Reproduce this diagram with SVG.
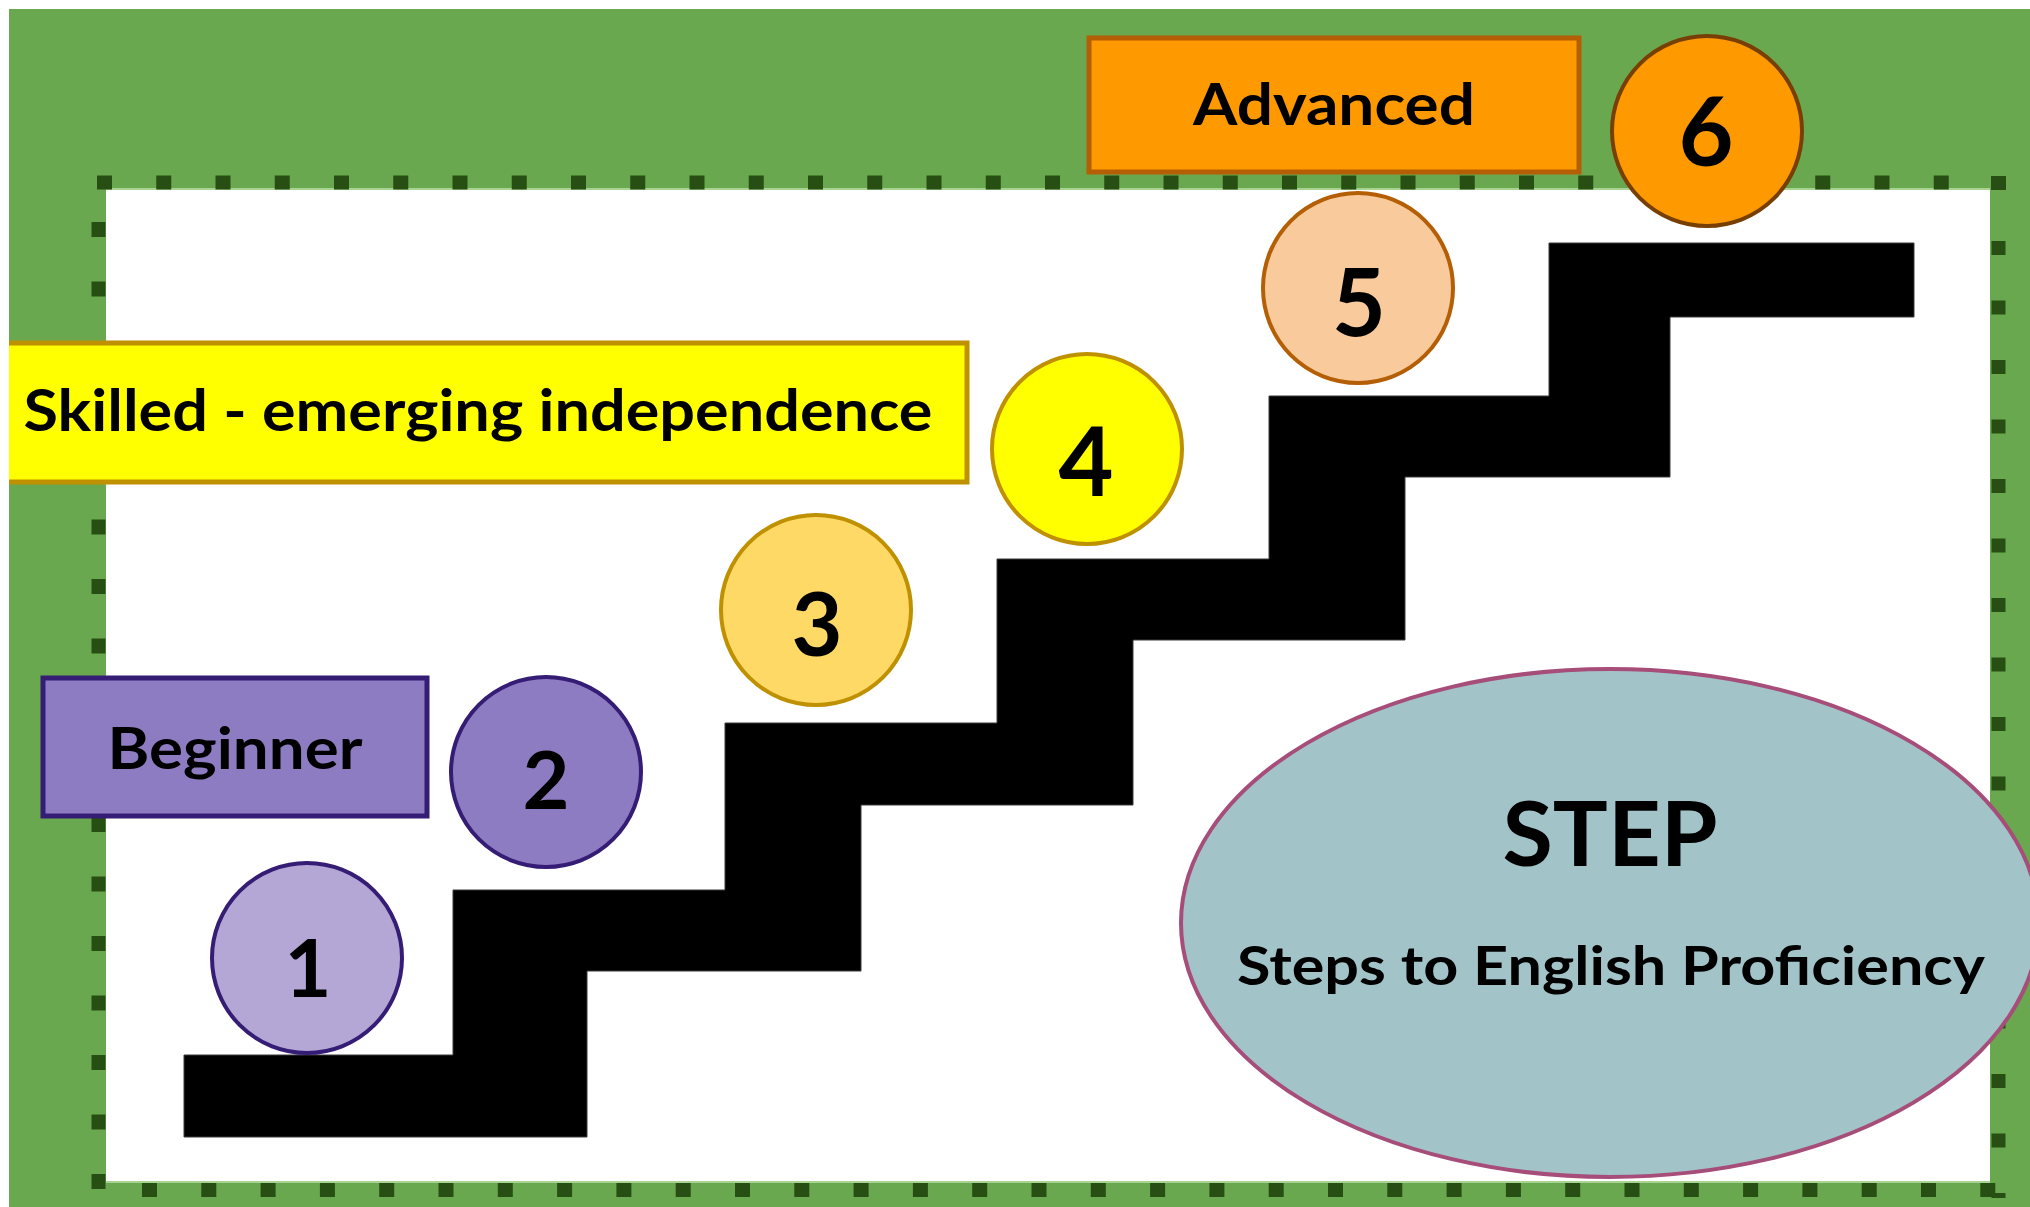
<svg xmlns="http://www.w3.org/2000/svg" width="2030" height="1207" viewBox="0 0 2030 1207">
<style>
.lbl{font-family:Lato,"Open Sans","Liberation Sans",sans-serif;font-weight:700;fill:#000;text-anchor:middle}
.num{font-family:Lato,"Open Sans","Liberation Sans",sans-serif;font-weight:700;fill:#000;text-anchor:middle}
.dot{fill:none;stroke:#274e13;stroke-width:14}
.stair{fill:#000;stroke:#3a3a3a;stroke-width:1}
</style>
<defs>
<clipPath id="frame"><rect x="9" y="9" width="2021" height="1198"/></clipPath>
</defs>
<rect x="0" y="0" width="2030" height="1207" fill="#ffffff"/>
<g clip-path="url(#frame)">
<g id="background">
<rect x="9" y="9" width="2021" height="1198" fill="#6aa84f"/>
<rect x="106" y="190" width="1884" height="992" fill="#ffffff"/>
<line x1="106" y1="189" x2="1990" y2="189" stroke="#a8d392" stroke-width="2"/>
<line x1="106" y1="1182" x2="1990" y2="1182" stroke="#a8d392" stroke-width="2"/>
<line class="dot" x1="97" y1="182.5" x2="1990" y2="182.5" stroke-dasharray="15 44.25"/>
<line class="dot" x1="98.5" y1="222" x2="98.5" y2="1198" stroke-dasharray="15 44.5"/>
<line class="dot" x1="142" y1="1190" x2="2006" y2="1190" stroke-dasharray="15 44.3"/>
<line class="dot" x1="1998.5" y1="241" x2="1998.5" y2="1198" stroke-dasharray="14 45.5"/>
<rect x="1991" y="176" width="15" height="14" fill="#274e13"/>
</g>
<g id="stairs">
<path class="stair" d="M184,1055 L453,1055 L453,890 L725,890 L725,723 L997,723 L997,559 L1269,559 L1269,396 L1549,396 L1549,243 L1914,243 L1914,317 L1670,317 L1670,477 L1405,477 L1405,640 L1133,640 L1133,805 L861,805 L861,971 L587,971 L587,1137 L184,1137 Z"/>
</g>
<g id="label-beginner">
<rect x="43" y="678" width="384" height="138" fill="#8e7cc3" stroke="#351c75" stroke-width="5"/>
<text class="lbl" x="235" y="769" font-size="57" textLength="255" lengthAdjust="spacingAndGlyphs">Beginner</text>
</g>
<g id="label-skilled">
<rect x="-5" y="343" width="972" height="139" fill="#ffff00" stroke="#bf9000" stroke-width="5"/>
<text class="lbl" x="478" y="431" font-size="57" textLength="909" lengthAdjust="spacingAndGlyphs">Skilled - emerging independence</text>
</g>
<g id="label-advanced">
<rect x="1089" y="38" width="490" height="134" fill="#ff9900" stroke="#b45f06" stroke-width="5"/>
<text class="lbl" x="1334" y="125" font-size="57" textLength="282" lengthAdjust="spacingAndGlyphs">Advanced</text>
</g>
<g id="step-1">
<circle cx="307" cy="958" r="95" fill="#b4a7d6" stroke="#351c75" stroke-width="4"/>
<text class="num" x="308" y="997" font-size="81">1</text>
</g>
<g id="step-2">
<circle cx="546" cy="772" r="95" fill="#8e7cc3" stroke="#351c75" stroke-width="4"/>
<text class="num" x="546" y="809" font-size="81">2</text>
</g>
<g id="step-3">
<circle cx="816" cy="610" r="95" fill="#ffd966" stroke="#bf9000" stroke-width="4"/>
<text class="num" x="817" y="656" font-size="88">3</text>
</g>
<g id="step-4">
<circle cx="1087" cy="449" r="95" fill="#ffff00" stroke="#bf9000" stroke-width="4"/>
<text class="num" x="1086" y="496" font-size="95">4</text>
</g>
<g id="step-5">
<circle cx="1358" cy="288" r="95" fill="#f9cb9c" stroke="#b45f06" stroke-width="4"/>
<text class="num" x="1359" y="336" font-size="93">5</text>
</g>
<g id="step-6">
<circle cx="1707" cy="131" r="95" fill="#ff9900" stroke="#783f04" stroke-width="4"/>
<text class="num" x="1706" y="166" font-size="95">6</text>
</g>
<g id="step-title">
<ellipse cx="1610" cy="923" rx="429" ry="254" fill="#a2c4c9" stroke="#a64d79" stroke-width="4"/>
<text class="lbl" x="1610" y="866" font-size="89" textLength="215" lengthAdjust="spacingAndGlyphs">STEP</text>
<text class="lbl" x="1611" y="985" font-size="54" textLength="748" lengthAdjust="spacingAndGlyphs">Steps to English Proficiency</text>
</g>
</g>
</svg>
